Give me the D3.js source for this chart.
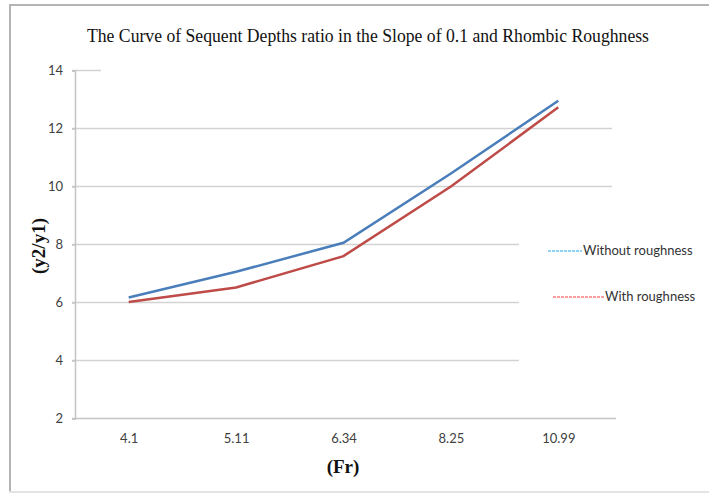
<!DOCTYPE html>
<html>
<head>
<meta charset="utf-8">
<script src="https://cdn.jsdelivr.net/npm/d3@7"></script>
<style>
  html, body { margin: 0; padding: 0; background: #fff; }
  svg { display: block; }
</style>
</head>
<body>
<svg id="chart" width="709" height="493"></svg>
<script>
// Froude numbers on the x axis and sequent depth ratios (y2/y1) per series
const categories = ["4.1", "5.11", "6.34", "8.25", "10.99"];
const withoutRoughness = [6.17, 7.06, 8.06, 10.45, 12.96];
const withRoughness = [6.02, 6.52, 7.60, 10.00, 12.73];
const yTicks = [2, 4, 6, 8, 10, 12, 14];
const legendLabels = ["Without roughness", "With roughness"];

const svg = d3.select("#chart");
const W = 709, H = 493;
const plot = { left: 75, right: 612, top: 70.5, bottom: 418.5 };
const sans = "Lato, 'Liberation Sans', sans-serif";
const serif = "'Liberation Serif', 'Times New Roman', serif";

// outer frame (top, left, bottom edges)
const frame = svg.append("g").attr("fill", "none").attr("stroke", "#b4b4b4").attr("stroke-width", 2);
frame.append("line").attr("x1", 9).attr("x2", W).attr("y1", 5).attr("y2", 5);
frame.append("line").attr("x1", 10).attr("x2", 10).attr("y1", 5).attr("y2", H);
frame.append("line").attr("x1", 9).attr("x2", W).attr("y1", 492).attr("y2", 492).attr("stroke", "#e4e4e4");

const x = d3.scalePoint().domain(categories).range([plot.left, plot.right]).padding(0.5);
const y = d3.scaleLinear().domain([2, 14]).range([plot.bottom, plot.top]);

// horizontal gridlines
const grid = svg.append("g");
grid.selectAll("line").data(yTicks.slice(1)).join("line")
  .attr("x1", plot.left - 3)
  .attr("x2", plot.right)
  .attr("y1", d => y(d)).attr("y2", d => y(d))
  .attr("stroke", "#d2d2d2").attr("stroke-width", 1.5);

// title and legend panels sit on top of the gridlines
svg.append("rect").attr("x", 101).attr("y", 64).attr("width", 520).attr("height", 12).attr("fill", "#fff");
svg.append("rect").attr("x", 519).attr("y", 225).attr("width", 185).attr("height", 145).attr("fill", "#fff");

// y axis
const yAxis = svg.append("g").attr("transform", `translate(${plot.left},0)`)
  .call(d3.axisLeft(y).tickValues(yTicks).tickSize(3).tickPadding(9));
yAxis.select(".domain").attr("stroke", "#c4c4c4").attr("stroke-width", 1.5);
yAxis.selectAll(".tick line").attr("stroke", "#c4c4c4").attr("stroke-width", 1.5);
yAxis.selectAll(".tick text")
  .attr("fill", "#404040").style("font-family", sans).style("font-size", "13px");

// x axis
const xAxis = svg.append("g").attr("transform", `translate(0,${plot.bottom})`)
  .call(d3.axisBottom(x).tickSize(0).tickPadding(15));
xAxis.select(".domain").attr("d", `M${plot.left - 3},0H${plot.right + 4}`)
  .attr("stroke", "#c4c4c4").attr("stroke-width", 1.5);
xAxis.selectAll(".tick text")
  .attr("fill", "#404040").style("font-family", sans).style("font-size", "13px");

// series lines
const line = d3.line().x((d, i) => x(categories[i])).y(d => y(d));
svg.append("path").datum(withoutRoughness).attr("d", line)
  .attr("fill", "none").attr("stroke", "#4a7ebb").attr("stroke-width", 2.5);
svg.append("path").datum(withRoughness).attr("d", line)
  .attr("fill", "none").attr("stroke", "#be4b48").attr("stroke-width", 2.5);

// title
svg.append("text").attr("x", 368).attr("y", 42).attr("text-anchor", "middle")
  .style("font-family", serif).style("font-size", "18px")
  .attr("textLength", 562).attr("lengthAdjust", "spacingAndGlyphs")
  .attr("fill", "#111")
  .text("The Curve of Sequent Depths ratio in the Slope of 0.1 and Rhombic Roughness");

// axis titles
svg.append("text").attr("transform", "translate(45,246) rotate(-90)").attr("text-anchor", "middle")
  .style("font-family", serif).style("font-size", "19px")
  .style("font-weight", "bold").attr("fill", "#111").text("(y2/y1)");
svg.append("text").attr("x", 343).attr("y", 473).attr("text-anchor", "middle")
  .style("font-family", serif).style("font-size", "19px")
  .style("font-weight", "bold").attr("fill", "#111").text("(Fr)");

// legend: dashed leader followed by label
const legend = [
  { label: legendLabels[0], color: "#1aa8f0", x0: 548, x1: 582, y: 250 },
  { label: legendLabels[1], color: "#f03c3c", x0: 553, x1: 604, y: 296 }
];
const lg = svg.append("g");
legend.forEach(d => {
  lg.append("line").attr("x1", d.x0).attr("x2", d.x1).attr("y1", d.y + 1).attr("y2", d.y + 1)
    .attr("stroke", d.color).attr("stroke-width", 1).attr("stroke-dasharray", "3,1");
  lg.append("text").attr("x", d.x1 + 1).attr("y", d.y + 5)
    .style("font-family", sans).style("font-size", "13px")
    .attr("fill", "#333").text(d.label);
});
</script>
</body>
</html>
